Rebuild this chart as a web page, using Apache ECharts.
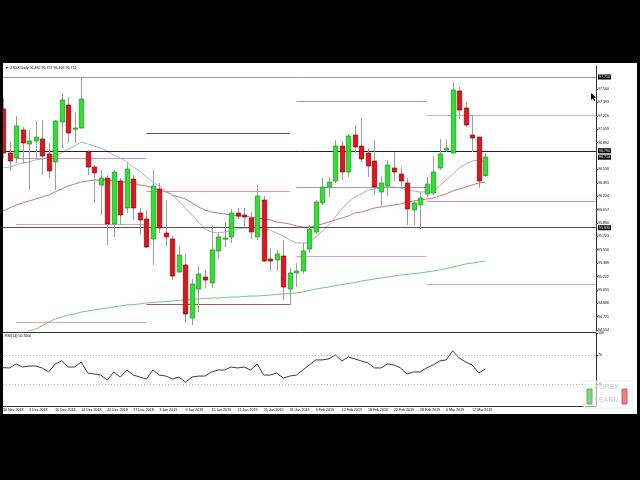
<!DOCTYPE html>
<html><head><meta charset="utf-8">
<script src="https://cdn.jsdelivr.net/npm/echarts@6/dist/echarts.min.js"></script>
<style>html,body{margin:0;padding:0;background:#000;}#c{width:640px;height:480px;}</style>
</head><body><div id="c"></div>
<script>
const dates = ["28 Nov","29 Nov","30 Nov",
"3 Dec","4 Dec","5 Dec","6 Dec","7 Dec","10 Dec","11 Dec","12 Dec","13 Dec","14 Dec","17 Dec","18 Dec","19 Dec","20 Dec","21 Dec","24 Dec","26 Dec","27 Dec","28 Dec","31 Dec",
"2 Jan","3 Jan","4 Jan","7 Jan","8 Jan","9 Jan","10 Jan","11 Jan","14 Jan","15 Jan","16 Jan","17 Jan","18 Jan","21 Jan","22 Jan","23 Jan","24 Jan","25 Jan","28 Jan","29 Jan","30 Jan","31 Jan",
"1 Feb","4 Feb","5 Feb","6 Feb","7 Feb","8 Feb","11 Feb","12 Feb","13 Feb","14 Feb","15 Feb","18 Feb","19 Feb","20 Feb","21 Feb","22 Feb","25 Feb","26 Feb","27 Feb","28 Feb",
"1 Mar","4 Mar","5 Mar","6 Mar","7 Mar","8 Mar","11 Mar","12 Mar","13 Mar","14 Mar"];
const futureSlots = 17;
const tickLabels = ["30 Nov 2018","4 Dec 2018","10 Dec 2018","14 Dec 2018","20 Dec 2018","27 Dec 2018","3 Jan 2019","9 Jan 2019","15 Jan 2019","21 Jan 2019","25 Jan 2019","31 Jan 2019","6 Feb 2019","12 Feb 2019","18 Feb 2019","22 Feb 2019","28 Feb 2019","6 Mar 2019","12 Mar 2019"];

const opens = [97.311,96.762,96.700,97.049,96.874,96.912,96.937,96.750,96.650,97.149,
97.360,97.061,97.074,96.774,96.587,96.363,96.450,95.877,96.413,96.076,
96.438,96.014,95.939,95.690,96.313,95.764,95.690,95.278,95.366,94.704,
95.066,95.216,95.141,95.540,95.696,95.715,96.014,95.989,95.951,95.715,
96.176,95.440,95.428,95.478,95.066,95.266,95.291,95.565,95.777,96.139,
96.338,96.413,96.849,96.525,96.986,96.849,96.762,96.662,96.276,96.351,
96.575,96.500,96.388,96.051,96.114,96.251,96.263,96.575,96.799,96.762,
97.535,97.323,96.986,96.961,96.482];
const highs = [97.448,96.912,97.223,97.086,97.049,97.161,97.173,96.887,97.173,97.510,
97.460,97.273,97.710,96.799,96.612,96.550,96.488,96.550,96.450,96.637,
96.488,96.076,96.051,96.550,96.388,96.176,95.727,95.602,95.503,95.191,
95.353,95.303,95.864,95.777,95.902,96.064,96.076,96.076,96.026,96.363,
96.226,95.577,95.553,95.677,95.328,95.390,95.640,95.864,96.176,96.450,
96.463,96.924,96.912,96.999,97.111,97.198,96.824,96.924,96.475,96.675,
96.774,96.587,96.450,96.176,96.276,96.463,96.725,96.937,96.924,97.647,
97.585,97.398,97.236,96.961,96.757];
const lows = [96.700,96.538,96.637,96.625,96.301,96.675,96.488,96.450,96.301,96.824,
96.887,96.887,97.061,96.488,96.139,95.989,95.615,95.715,95.864,96.014,
95.927,95.740,95.578,95.366,95.764,95.590,95.178,95.266,94.642,94.617,
94.779,95.079,95.079,95.453,95.590,95.640,95.939,95.839,95.690,95.677,
95.403,95.291,95.291,94.929,94.866,95.091,95.253,95.515,95.752,96.114,
96.213,96.388,96.425,96.463,96.762,96.650,96.463,96.238,96.101,96.226,
96.413,96.313,95.864,95.864,95.814,96.213,96.238,96.550,96.774,96.750,
97.186,97.086,96.774,96.326,96.466];
const closes = [96.762,96.662,97.099,96.887,96.912,96.961,96.725,96.538,97.161,97.423,
97.011,97.074,97.435,96.587,96.513,96.450,95.877,96.525,95.989,96.562,
96.076,95.927,95.590,96.351,95.827,95.715,95.228,95.490,94.754,95.129,
95.253,95.178,95.553,95.715,95.702,96.014,95.976,95.964,95.777,96.226,
95.415,95.415,95.503,95.091,95.266,95.291,95.540,95.814,96.151,96.338,
96.400,96.849,96.525,96.974,96.837,96.687,96.600,96.338,96.388,96.612,
96.525,96.413,96.064,96.139,96.201,96.375,96.525,96.750,96.824,97.548,
97.298,97.111,96.949,96.413,96.712];

const maFast = [96.575,96.587,96.612,96.637,96.650,96.675,96.687,96.706,96.725,96.762,
96.812,96.849,96.899,96.874,96.849,96.824,96.787,96.737,96.700,96.650,
96.587,96.538,96.463,96.400,96.351,96.288,96.238,96.163,96.076,95.989,
95.902,95.814,95.777,95.764,95.777,95.789,95.814,95.827,95.827,95.827,
95.814,95.802,95.764,95.727,95.677,95.640,95.640,95.640,95.715,95.789,
95.864,95.964,96.064,96.151,96.213,96.251,96.301,96.313,96.326,96.338,
96.338,96.326,96.301,96.288,96.276,96.276,96.276,96.351,96.425,96.500,
96.575,96.625,96.662,96.675,96.650];
const maMid = [96.039,96.076,96.114,96.139,96.163,96.188,96.213,96.238,96.276,96.313,
96.351,96.375,96.400,96.413,96.425,96.425,96.425,96.413,96.400,96.400,
96.388,96.363,96.351,96.326,96.301,96.276,96.238,96.213,96.188,96.139,
96.089,96.051,96.026,96.014,96.001,95.989,95.976,95.976,95.964,95.951,
95.939,95.927,95.902,95.889,95.877,95.852,95.839,95.839,95.852,95.877,
95.902,95.927,95.951,95.976,96.014,96.026,96.051,96.076,96.089,96.101,
96.114,96.126,96.151,96.163,96.176,96.188,96.201,96.226,96.251,96.288,
96.313,96.338,96.363,96.388,96.400];
const maSlow = [94.368,94.418,94.468,94.505,94.543,94.567,94.605,94.655,94.692,94.717,
94.742,94.754,94.779,94.792,94.804,94.817,94.829,94.842,94.854,94.866,
94.873,94.879,94.891,94.898,94.904,94.910,94.917,94.923,94.929,94.935,
94.942,94.948,94.954,94.954,94.960,94.966,94.966,94.973,94.979,94.979,
94.985,94.991,94.998,95.004,95.010,95.016,95.029,95.047,95.066,95.079,
95.091,95.110,95.122,95.135,95.147,95.166,95.178,95.191,95.203,95.216,
95.228,95.241,95.247,95.259,95.266,95.278,95.291,95.303,95.322,95.340,
95.359,95.378,95.390,95.403,95.415];
const rsi = [52.5,52.1,57.6,53.4,54.8,54.8,52.1,46.6,57.6,61.7,
53.4,53.4,60.3,45.2,43.8,42.4,35.5,46.6,39.7,49.3,
42.4,39.7,36.9,49.3,42.4,41.0,36.9,39.7,32.8,39.7,
41.0,41.0,46.6,49.3,49.3,53.4,52.1,53.4,49.3,57.6,
42.4,42.4,45.2,38.3,41.0,42.4,49.3,56.2,63.1,63.1,
64.5,70.0,61.7,67.2,64.5,61.7,59.0,52.1,52.1,57.6,
56.2,52.1,43.8,46.6,46.6,52.1,56.2,61.7,63.1,75.5,
65.9,60.3,56.2,45.2,50.7];

const priceTicks = [97.560,97.393,97.226,97.059,96.892,96.558,96.391,96.224,96.057,95.890,95.723,95.556,95.389,95.222,95.055,94.888,94.721,94.554];
const rsiTicks = [30,70,100];
const rsiLevels = [70,30];
const fullLines = [97.710,96.787,95.827];
const lastPrice = 96.712;
// monthly level segments: [start bar, end bar], levels
const segDec = [96.700,95.877,94.655];
const segJan = [97.011,96.288,94.879];
const segFeb = [97.410,96.338,95.478];
const segMar = [97.236,96.163,95.129];

const cats = dates.concat(Array.from({length:futureSlots},(_, i)=>'f'+i));
const candleData = dates.map((d,i)=>[i,opens[i],closes[i],lows[i],highs[i]]);

const F = 'Liberation Sans, Arial, sans-serif';
const FS = 3.6;

function seg(a,b,v,color){return [{coord:[a,v],lineStyle:{color:color,width:1,type:'solid'}},{coord:[b,v]}];}

const boxLabel = {show:true, position:'end', distance:2, formatter:p=>Number(p.value).toFixed(3),
  backgroundColor:'#000', color:'#fff', fontSize:FS, fontFamily:F, padding:[1,1,0,1]};

const chart = echarts.init(document.getElementById('c'), null, {renderer:'canvas'});
const option = {
  backgroundColor:'#000',
  animation:false,
  grid:[
    {left:3, top:66, width:593, height:265, outerBoundsMode:'none', containLabel:false, show:false},
    {left:3, top:333, width:593, height:73, outerBoundsMode:'none', containLabel:false, show:false}
  ],
  graphic:[
    {type:'rect', z:-10, shape:{x:3,y:63,width:634,height:351}, style:{fill:'#fff'}},
    {type:'line', z:-5, shape:{x1:3,y1:332.5,x2:596,y2:332.5}, style:{stroke:'#333',lineWidth:1}},
    {type:'text', z:50, style:{x:5, y:66, text:'\u25BC USDX,Daily '+opens[opens.length-1].toFixed(3)+' '+highs[highs.length-1].toFixed(3)+' '+lows[lows.length-1].toFixed(3)+' '+closes[closes.length-1].toFixed(3), font:FS+'px '+F, fill:'#000'}},
    {type:'text', z:50, style:{x:5, y:334, text:'RSI(14) '+rsi[rsi.length-1].toFixed(4), font:FS+'px '+F, fill:'#000'}},
    {type:'rect', z:20, shape:{x:584,y:381,width:48,height:27}, style:{fill:'rgba(255,255,255,0.6)', stroke:'#eeeeee', lineWidth:1}},
    {type:'rect', z:21, shape:{x:587,y:389,width:5,height:15}, style:{fill:'#7fd87f', stroke:'#5bb85b'}},
    {type:'rect', z:21, shape:{x:622,y:389,width:5,height:15}, style:{fill:'#f08080', stroke:'#d06060'}},
    {type:'text', z:21, style:{x:595, y:384, text:'FOREX', font:'7px '+F, fill:'#c8c8c8'}},
    {type:'text', z:21, style:{x:595, y:397, text:'LEARN', font:'7px '+F, fill:'#c8c8c8'}},
    {type:'polygon', z:30, shape:{points:[[591,93],[591,100],[593,98.5],[594.5,101],[595.5,100.5],[594,98],[596,97.5]]}, style:{fill:'#000'}}
  ],
  xAxis:[
    {type:'category', gridIndex:0, data:cats, boundaryGap:false, axisLine:{show:false}, axisTick:{show:false}, axisLabel:{show:false}, splitLine:{show:false}},
    {type:'category', gridIndex:1, data:cats, boundaryGap:false,
      axisLine:{show:true, onZero:false, lineStyle:{color:'#333',width:1}},
      axisTick:{show:false},
      axisLabel:{show:true, hideOverlap:false, align:'left', margin:2, fontSize:FS, fontFamily:F, color:'#000',
        interval:(idx)=> idx%4===0 && idx/4 < tickLabels.length,
        formatter:(v,idx)=> tickLabels[idx/4] || ''},
      splitLine:{show:false}}
  ],
  yAxis:[
    {type:'value', gridIndex:0, position:'right', min:94.5425, max:97.8468, scale:true,
      axisLine:{show:true, lineStyle:{color:'#333',width:1}},
      axisTick:{show:true, length:2, customValues:priceTicks, lineStyle:{color:'#333'}},
      axisLabel:{show:true, customValues:priceTicks, formatter:v=>v.toFixed(3), margin:2, fontSize:FS, fontFamily:F, color:'#000', hideOverlap:false},
      splitLine:{show:false}},
    {type:'value', gridIndex:1, position:'right', min:0, max:100,
      axisLine:{show:true, lineStyle:{color:'#333',width:1}},
      axisTick:{show:true, length:2, customValues:rsiTicks, lineStyle:{color:'#333'}},
      axisLabel:{show:true, customValues:rsiTicks, formatter:v=>String(v), margin:2, fontSize:FS, fontFamily:F, color:'#000', hideOverlap:false},
      splitLine:{show:false}}
  ],
  series:[
    {type:'line', name:'ma200', xAxisIndex:0, yAxisIndex:0, data:maSlow, symbol:'none', clip:true, z:3,
      lineStyle:{color:'#7cc27c', width:1},
      markLine:{silent:true, symbol:['none','none'], animation:false,
        label:{show:false},
        data:[
          seg(2,22,segDec[0],'#d98ad9'), seg(2,22,segDec[1],'#e2a0a0'), seg(2,22,segDec[2],'#e2a0a0'),
          seg(22,44,segJan[0],'#4b4b7e'), seg(22,44,segJan[1],'#de8ade'), seg(22,44,segJan[2],'#a25a5a'),
          seg(45,65,segFeb[0],'#9a9ab8'), seg(45,65,segFeb[1],'#9a9ab8'), seg(45,65,segFeb[2],'#e0a0e0'),
          seg(65,91,segMar[0],'#bdbdbd'), seg(65,91,segMar[1],'#d98ad9'), seg(65,91,segMar[2],'#dba0c8')
        ]}},
    {type:'line', name:'ma20', xAxisIndex:0, yAxisIndex:0, data:maMid, symbol:'none', clip:true, z:3,
      lineStyle:{color:'#c27a7a', width:1},
      markLine:{silent:true, symbol:['none','none'], animation:false,
        data:[
          {yAxis:fullLines[0], lineStyle:{color:'#9a9a9a',width:1,type:'solid'}, label:boxLabel},
          {yAxis:fullLines[1], lineStyle:{color:'#222',width:1,type:'solid'}, label:boxLabel},
          {yAxis:fullLines[2], lineStyle:{color:'#555',width:1,type:'solid'}, label:boxLabel},
          {yAxis:lastPrice, lineStyle:{color:'rgba(0,0,0,0)', width:1, type:'solid'}, label:boxLabel}
        ]}},
    {type:'line', name:'ma10', xAxisIndex:0, yAxisIndex:0, data:maFast, symbol:'none', clip:true, z:3,
      lineStyle:{color:'#9fb4cf', width:1}},
    {type:'custom', name:'USDX', xAxisIndex:0, yAxisIndex:0, data:candleData, clip:true, z:5,
      encode:{x:0, y:[1,2,3,4]},
      renderItem:function(params, api){
        const x = api.value(0);
        const o=api.value(1), c=api.value(2), l=api.value(3), h=api.value(4);
        const pO=api.coord([x,o]), pC=api.coord([x,c]), pL=api.coord([x,l]), pH=api.coord([x,h]);
        const w=4.4;
        const up=c>=o;
        const cx=Math.round(pO[0])+0.5;
        const top=Math.min(pO[1],pC[1]), bot=Math.max(pO[1],pC[1]);
        return {type:'group', children:[
          {type:'line', shape:{x1:cx,y1:pH[1],x2:cx,y2:pL[1]}, style:{stroke:'#9c9c9c', lineWidth:1}},
          {type:'rect', shape:{x:cx-w/2, y:top, width:w, height:Math.max(bot-top,1.2)},
           style:{fill: up?'#2fe22f':'#e3141b', stroke: up?'#1f8f1f':'#7c0a0a', lineWidth:0.7}}
        ]};
      }},
    {type:'line', name:'RSI', xAxisIndex:1, yAxisIndex:1, data:rsi, symbol:'none', z:3,
      lineStyle:{color:'#3c3c3c', width:1},
      markLine:{silent:true, symbol:['none','none'], animation:false, label:{show:false},
        data:rsiLevels.map(v=>({yAxis:v, lineStyle:{color:'#b8b8b8', width:1, type:[1,2]}}))}}
  ]
};
chart.setOption(option);
</script></body></html>
